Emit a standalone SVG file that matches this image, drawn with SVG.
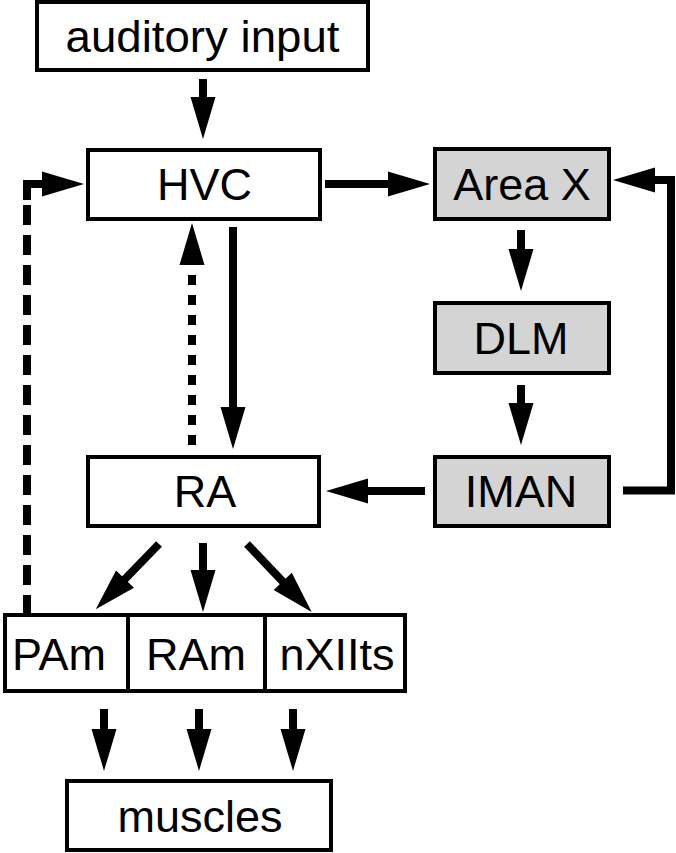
<svg xmlns="http://www.w3.org/2000/svg" width="676" height="853" viewBox="0 0 676 853">
<style>
.box{fill:#fff;stroke:#000;stroke-width:4}
.gray{fill:#d4d4d4}
.lbl{font-family:"Liberation Sans",Arial,sans-serif;font-size:45px;fill:#000;text-anchor:middle}
.c{fill:none;stroke:#000;stroke-width:8}
</style>
<defs>
<marker id="ah" markerUnits="userSpaceOnUse" viewBox="0 -13 44 26" markerWidth="44" markerHeight="26" refX="1" refY="0" orient="auto" overflow="visible">
<path d="M0,-12.5 L42,0 L0,12.5 z" fill="#000"/>
</marker>
</defs>
<rect width="676" height="853" fill="#fff"/>
<g id="auditory-input"><rect class="box" x="37" y="2" width="331" height="68"/><text class="lbl" x="202.5" y="52" textLength="274" lengthAdjust="spacingAndGlyphs">auditory input</text></g>
<g id="HVC"><rect class="box" x="88" y="150" width="232" height="69"/><text class="lbl" x="204.5" y="200">HVC</text></g>
<g id="AreaX"><rect class="box gray" x="435" y="149" width="174" height="70"/><text class="lbl" x="522" y="200">Area X</text></g>
<g id="DLM"><rect class="box gray" x="435" y="303" width="174" height="70"/><text class="lbl" x="521" y="354">DLM</text></g>
<g id="IMAN"><rect class="box gray" x="435" y="457" width="174" height="69"/><text class="lbl" x="521" y="507">IMAN</text></g>
<g id="RA"><rect class="box" x="88" y="457" width="231" height="69"/><text class="lbl" x="205" y="507">RA</text></g>
<g id="brainstem"><rect class="box" x="5" y="615" width="400" height="76"/><line x1="128" y1="615" x2="128" y2="691" stroke="#000" stroke-width="4"/><line x1="265" y1="615" x2="265" y2="691" stroke="#000" stroke-width="4"/></g>
<g id="PAm"><text class="lbl" x="59" y="670">PAm</text></g>
<g id="RAm"><text class="lbl" x="196" y="670">RAm</text></g>
<g id="nXIIts"><text class="lbl" x="337" y="670">nXIIts</text></g>
<g id="muscles"><rect class="box" x="67" y="781" width="264" height="69"/><text class="lbl" x="200" y="832">muscles</text></g>
<g id="connectors">
<path class="c" d="M203,79 V98" marker-end="url(#ah)"/>
<path class="c" d="M325,184 H389" marker-end="url(#ah)"/>
<path class="c" d="M521,230 V250" marker-end="url(#ah)"/>
<path class="c" d="M521,385 V404" marker-end="url(#ah)"/>
<path class="c" d="M425,491 H367" marker-end="url(#ah)"/>
<path class="c" d="M623,490.5 H671 V180 H654" marker-end="url(#ah)"/>
<path class="c" d="M233,227 V408" marker-end="url(#ah)"/>
<path class="c" d="M192,445 V264" stroke-dasharray="10 10" marker-end="url(#ah)"/>
<path class="c" d="M27,615 V195" stroke-dasharray="20 10" stroke-width="7"/>
<path class="c" d="M27,200 V184 H43" stroke-width="7" marker-end="url(#ah)"/>
<path class="c" d="M159,544 L124.3,579.8" marker-end="url(#ah)"/>
<path class="c" d="M203,543 V571" marker-end="url(#ah)"/>
<path class="c" d="M247,544 L283.4,582.2" marker-end="url(#ah)"/>
<path class="c" d="M104,709 V730" marker-end="url(#ah)"/>
<path class="c" d="M199,709 V730" marker-end="url(#ah)"/>
<path class="c" d="M293,709 V730" marker-end="url(#ah)"/>
</g>
</svg>
